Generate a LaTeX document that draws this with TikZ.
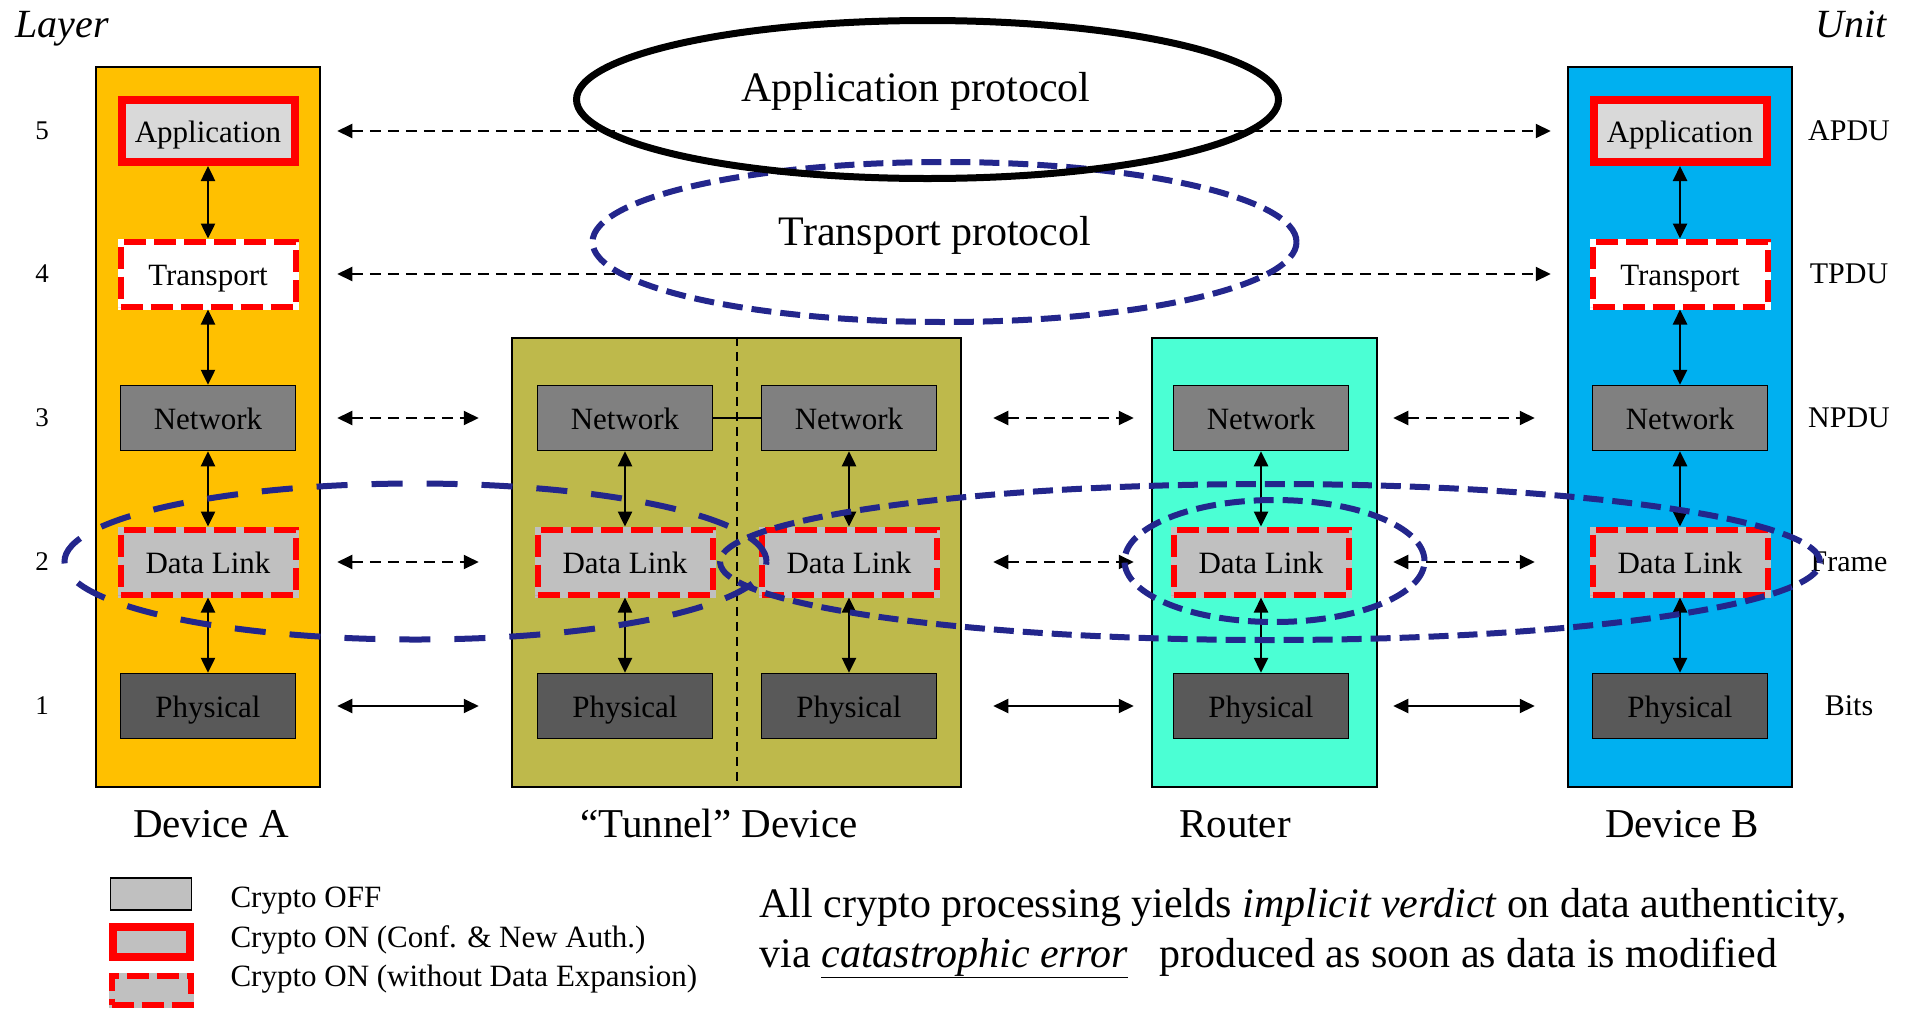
\documentclass[tikz,border=0pt]{standalone}
\usepackage{fontspec}
\setmainfont{Liberation Serif}
\usetikzlibrary{arrows.meta,shapes.geometric}
\definecolor{devAcol}{HTML}{FFC000}
\definecolor{tuncol}{RGB}{190,185,75}
\definecolor{rtrcol}{RGB}{75,255,212}
\definecolor{devBcol}{HTML}{00B0F0}
\definecolor{ringblue}{RGB}{35,38,140}
\definecolor{appgray}{HTML}{D9D9D9}
\definecolor{linkgray}{HTML}{C0C0C0}
\definecolor{netgray}{HTML}{808080}
\definecolor{phygray}{HTML}{595959}
\begin{document}
\begin{tikzpicture}[x=1pt, y=-1pt, >={Triangle[length=15pt,width=14pt]},
  dev/.style={draw, line width=2.5pt, minimum width=224pt},
  lay/.style={minimum width=175pt, minimum height=65pt, inner sep=0pt, text height=23pt, text depth=0pt, font=\fontsize{31}{31}\selectfont},
  cryoff/.style={lay, draw, line width=1.5pt},
  cryon/.style={lay, draw=red, line width=8pt, minimum width=173pt, minimum height=62pt},
  cryexp/.style={lay, fill=#1, draw=red, line width=6pt, dash pattern=on 22pt off 8pt, preaction={draw=#1, solid}},
  hlink/.style={<->, line width=2pt, dash pattern=on 11pt off 7pt},
  hsolid/.style={<->, line width=2pt},
  vlink/.style={<->, line width=2.5pt},
  ring/.style={draw=ringblue, line width=6pt, dash pattern=on 20pt off 9pt},
  lbl/.style={anchor=base, font=\fontsize{41}{41}\selectfont},
  key/.style={anchor=base west, font=\fontsize{31}{31}\selectfont},
  num/.style={font=\fontsize{27}{27}\selectfont},
  unit/.style={font=\fontsize{30}{30}\selectfont}]
\useasboundingbox (0,0) rectangle (1910,1010);
\node[dev, fill=devAcol, minimum height=720pt] (devA) at (208,427) {};
\node[dev, fill=tuncol, minimum width=449pt, minimum height=449pt] (tun) at (736.5,562.5) {};
\node[dev, fill=rtrcol, minimum width=225pt, minimum height=449pt] (rtr) at (1264.5,562.5) {};
\node[dev, fill=devBcol, minimum height=720pt] (devB) at (1680,427) {};
\draw[line width=2pt, dash pattern=on 9pt off 6pt] (tun.north) -- (tun.south);
\foreach \d/\x in {A/208, B/1680} {
  \node[cryon, fill=appgray] (\d5) at (\x,131) {Application};
  \node[cryexp=white] (\d4) at (\x,274) {Transport};
  \node[cryoff, fill=netgray] (\d3) at (\x,418) {Network};
  \node[cryexp=linkgray] (\d2) at (\x,562) {Data Link};
  \node[cryoff, fill=phygray] (\d1) at (\x,706) {Physical};
  \draw[vlink] (\d5) -- (\d4);
  \draw[vlink] (\d4) -- (\d3);
  \draw[vlink] (\d3) -- (\d2);
  \draw[vlink] (\d2) -- (\d1);
}
\foreach \d/\x in {TL/625, TR/849, R/1261} {
  \node[cryoff, fill=netgray] (\d3) at (\x,418) {Network};
  \node[cryexp=linkgray] (\d2) at (\x,562) {Data Link};
  \node[cryoff, fill=phygray] (\d1) at (\x,706) {Physical};
  \draw[vlink] (\d3) -- (\d2);
  \draw[vlink] (\d2) -- (\d1);
}
\draw[line width=2pt] (TL3) -- (TR3);
\foreach \r in {5,4}
  \draw[hlink, shorten <=16pt, shorten >=16pt] (devA.east |- A\r) -- (devB.west |- B\r);
\foreach \r in {3,2} {
  \draw[hlink, shorten <=16pt, shorten >=32pt] (devA.east |- A\r) -- (tun.west |- A\r);
  \draw[hlink, shorten <=31pt, shorten >=17pt] (tun.east |- A\r) -- (rtr.west |- A\r);
  \draw[hlink, shorten <=15pt, shorten >=32pt] (rtr.east |- A\r) -- (devB.west |- A\r);
}
\draw[hsolid, shorten <=16pt, shorten >=32pt] (devA.east |- A1) -- (tun.west |- A1);
\draw[hsolid, shorten <=31pt, shorten >=17pt] (tun.east |- A1) -- (rtr.west |- A1);
\draw[hsolid, shorten <=15pt, shorten >=32pt] (rtr.east |- A1) -- (devB.west |- A1);
\foreach \n/\y/\u in {5/131/APDU, 4/274/TPDU, 3/418/NPDU, 2/562/Frame, 1/706/Bits} {
  \node[num] (L\n) at (42,\y) {\n};
  \node[unit] (U\n) at (1849,\y) {\u};
}
\node[ellipse, ring, minimum width=704pt, minimum height=160pt] (trring) at (944.5,242) {};
\node[ellipse, draw, line width=7pt, minimum width=702pt, minimum height=158pt] (appring) at (927.5,99.5) {};
\node[font=\fontsize{42}{42}\selectfont] (apptxt) at (916,91) {Application protocol};
\node[font=\fontsize{42}{42}\selectfont] (trtxt) at (935,235) {Transport protocol};
\draw[ring, dash pattern=on 31pt off 24pt] (415.5,561.5) ellipse [x radius=351pt, y radius=78pt];
\draw[ring] (1270,562) ellipse [x radius=550pt, y radius=78pt];
\draw[ring] (1274.5,561) ellipse [x radius=150pt, y radius=61pt];
\node[anchor=base west, font=\fontsize{40}{40}\selectfont\itshape] (layhd) at (12,37) {Layer};
\node[anchor=base east, font=\fontsize{40}{40}\selectfont\itshape] (unithd) at (1890,37) {Unit};
\node[lbl] (devAtxt) at (211,837) {Device A};
\node[lbl] (tuntxt) at (719,837) {“Tunnel” Device};
\node[lbl] (rtrtxt) at (1235,837) {Router};
\node[lbl] (devBtxt) at (1682,837) {Device B};
\node[cryoff, fill=linkgray, minimum width=81pt, minimum height=32pt] (keyoff) at (151,894) {};
\node[cryon, fill=linkgray, minimum width=77pt, minimum height=30pt] (keyon) at (151,942) {};
\node[cryexp=linkgray, minimum width=79pt, minimum height=29pt] (keyexp) at (151,990) {};
\node[key] (keyofftxt) at (227,907) {Crypto OFF};
\node[key] (keyontxt) at (227,947) {Crypto ON (Conf. \& New Auth.)};
\node[key] (keyexptxt) at (227,986) {Crypto ON (without Data Expansion)};
\node[anchor=base west, font=\fontsize{42}{42}\selectfont] (note1) at (756,917) {All crypto processing yields \textit{implicit verdict} on data authenticity,};
\node[anchor=base west, font=\fontsize{42}{42}\selectfont] (note2) at (756,967) {via \underline{\textit{catastrophic error}}\hspace{0.5em} produced as soon as data is modified};
\end{tikzpicture}
\end{document}
